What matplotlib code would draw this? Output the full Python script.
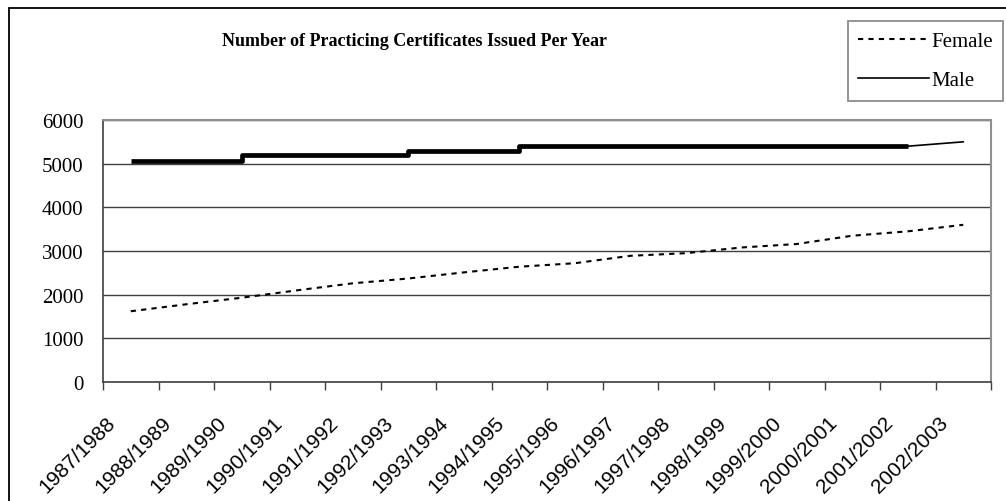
import matplotlib
matplotlib.use('Agg')
import matplotlib.pyplot as plt
from matplotlib.lines import Line2D
from matplotlib.patches import Rectangle
from matplotlib.transforms import ScaledTranslation
import numpy as np

years = ['1987/1988', '1988/1989', '1989/1990', '1990/1991', '1991/1992', '1992/1993',
         '1993/1994', '1994/1995', '1995/1996', '1996/1997', '1997/1998', '1998/1999',
         '1999/2000', '2000/2001', '2001/2002', '2002/2003']
female = [1620, 1780, 1930, 2100, 2260, 2370, 2510, 2640, 2720, 2890, 2950, 3080,
          3160, 3350, 3450, 3600]
male = [5070, 5070, 5200, 5200, 5200, 5300, 5300, 5400, 5400, 5400, 5400, 5400,
        5400, 5400, 5400, 5500]
yticks = [0, 1000, 2000, 3000, 4000, 5000, 6000]

serif = 'Liberation Serif'
sans = 'Liberation Sans'

fig = plt.figure(figsize=(10.06, 5.02), dpi=100)
ax = fig.add_axes([103/1006, 1-383/502, (991-103)/1006, (383-121)/502])

X = np.arange(len(years))

# female: short dashes
ax.plot(X, female, color='k', lw=1.5, dashes=(2.5, 2.5), label='Female')
# male: the flat stretches print as heavy steps, the last step is thin
ax.plot(X[:-1], male[:-1], color='k', lw=3.4, drawstyle='steps-post', solid_capstyle='butt')
ax.plot(X[-2:], male[-2:], color='k', lw=1.2, label='Male')

ax.set_xlim(-0.5, len(years) - 0.5)
ax.set_ylim(0, 6000)
ax.set_yticks(yticks, labels=[str(v) for v in yticks], fontfamily=serif, fontsize=15)
ax.yaxis.grid(True, color='#404040', lw=1.0)
ax.set_axisbelow(True)
ax.tick_params(axis='y', length=0, pad=14)

ax.set_xticks(np.arange(-0.5, len(years)))
ax.set_xticklabels([])
ax.tick_params(axis='x', length=6, width=1, color='#404040', direction='out')

for s in ['left', 'bottom']:
    ax.spines[s].set_color('#404040')
    ax.spines[s].set_linewidth(1.2)
for s in ['top', 'right']:
    ax.spines[s].set_color('#909090')
    ax.spines[s].set_linewidth(1.5)

off = ScaledTranslation(-18/100, -37/100, fig.dpi_scale_trans)
for i, name in enumerate(years):
    ax.text(i, 0, name, transform=ax.get_xaxis_transform() + off,
            rotation=45, rotation_mode='anchor', ha='right', va='center',
            fontsize=15, family=sans)

fig.text(415/1006, 1-42/502, 'Number of Practicing Certificates Issued Per Year',
         ha='center', va='center', fontsize=13, fontweight='bold', family=serif)

handles = [Line2D([], [], color='k', lw=1.5, dashes=(2.5, 2.5)),
           Line2D([], [], color='k', lw=1.2)]
leg = fig.legend(handles, ['Female', 'Male'], loc='upper right',
                 bbox_to_anchor=(1003/1006, 1-22/502), frameon=True, fancybox=False,
                 prop={'family': serif, 'size': 15}, handlelength=3.4, handletextpad=0.1,
                 labelspacing=0.95, borderpad=0.5, borderaxespad=0)
leg.get_frame().set_edgecolor('#707070')
leg.get_frame().set_linewidth(1.3)

# outer chart frame, only its top and left edges fall inside the picture
fig.add_artist(Rectangle((9/1006, -0.1), 1.2, 1.1 - 9/502, transform=fig.transFigure,
                         fill=False, edgecolor='k', lw=1.3))

plt.savefig('out.png', dpi=100)
plt.close()
